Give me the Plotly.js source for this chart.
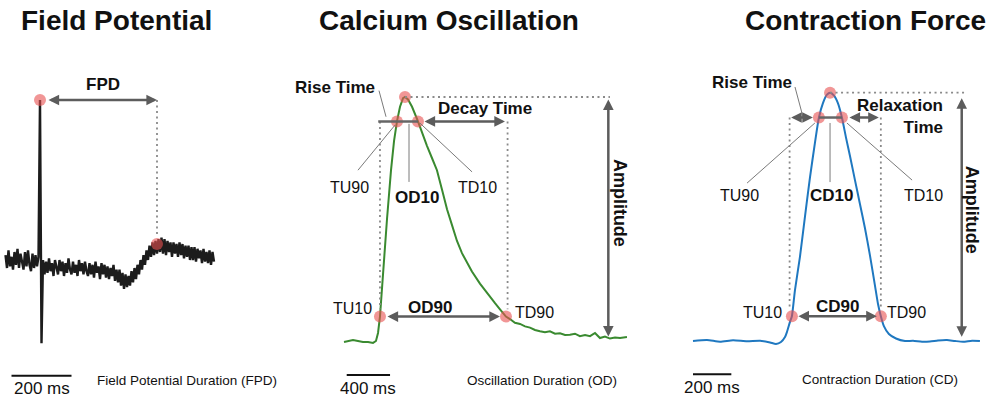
<!DOCTYPE html>
<html><head><meta charset="utf-8">
<script src="https://cdn.plot.ly/plotly-3.0.1.min.js"></script>
<style>html,body{margin:0;padding:0;background:#fff}</style>
</head><body><div id="chart" style="width:989px;height:399px"></div>
<script>
// ---------------- DATA ----------------
// Field potential trace (arbitrary µV units), sampled every 5 ms starting at -115 ms
const fpStart = -115, fpStep = 5;
const fpValues = [
  3,-5,6,-4,2,-6,5,-3,7,-5,4,-2,-6,5,-4,6,-3,-7,4,-5,3,-4,2,
  100,-52,
  0,-9,-1,-8,1,-7,-2,-10,0,-6,
  -9,0,-7,-1,-10,-2,-8,1,-6,-9,
  -1,-8,-3,-10,0,-7,-2,-9,-1,-7,
  -10,-2,-9,-3,-11,-1,-8,-4,-12,-2,
  -9,-3,-11,-4,-12,-5,-10,-3,-13,-6,
  -14,-6,-16,-8,-18,-9,-17,-10,-16,-7,
  -14,-5,-12,-3,-9,0,-6,3,-3,6,
  0,9,2,11,3,12,4,13,5,14,
  4,13,3,12,5,11,2,11,4,10,
  2,11,3,10,1,9,2,9,0,8,
  0,8,-1,7,1,6,-2,7,-1,5,
  -2,6,-3,5,-1
];
const fpMarkT = [0, 390];        // depolarisation peak, repolarisation peak
const fpMarkV = [100, 10];

// Calcium oscillation (normalised fluorescence) vs time (ms)
const caT = [0,37,83,129,175,222,268,295,314,332,360,397,434,462,489,517,545,563,591,628,683,729,766,812,858,905,951,997,1043,1089,1135,1181,1255,1329,1394,1440,1495,1532,1578,1625,1671,1717,1763,1809,1855,1901,1948,1994,2040,2086,2132,2178,2225,2271,2317,2363,2409,2455,2502,2548,2612];
const caV = [-0.004,0,0.004,0,-0.004,-0.004,-0.008,0,0.033,0.10,0.29,0.50,0.70,0.82,0.90,0.96,0.995,1.0,0.99,0.96,0.90,0.84,0.80,0.75,0.70,0.62,0.54,0.475,0.41,0.36,0.32,0.285,0.235,0.19,0.155,0.13,0.10,0.09,0.075,0.07,0.06,0.055,0.045,0.04,0.036,0.04,0.03,0.032,0.025,0.026,0.03,0.02,0.024,0.02,0.033,0.012,0.018,0.01,0.014,0.012,0.016];
// peak, TU90, TD10, TU10, TD90
const caMarkT = [563, 489, 683, 332, 1495];
const caMarkV = [1.0, 0.9, 0.9, 0.1, 0.1];

// Contraction force (normalised) vs time (ms)
const cfT = [0,73,141,209,282,350,402,433,459,480,490,506,516,532,558,584,610,636,657,678,699,715,736,756,777,798,819,845,871,897,923,949,965,980,996,1022,1059,1106,1148,1195,1236,1278,1325,1367,1409,1456,1497];
const cfV = [0,0.004,-0.003,0.003,-0.001,0.001,-0.006,-0.012,-0.004,0.016,0.036,0.077,0.10,0.205,0.339,0.50,0.657,0.797,0.90,0.958,0.992,1.0,0.988,0.958,0.90,0.82,0.745,0.648,0.552,0.455,0.346,0.225,0.15,0.10,0.06,0.028,0.01,0,0.001,-0.003,-0.002,0.002,0.004,0,-0.003,0.001,0];
const cfMarkT = [715, 657, 777, 516, 980];
const cfMarkV = [1.0, 0.9, 0.9, 0.1, 0.1];

const scaleBarsMs = [200, 400, 200];
const titles = ["Field Potential", "Calcium Oscillation", "Contraction Force"];
const captions = ["Field Potential Duration (FPD)", "Oscillation Duration (OD)", "Contraction Duration (CD)"];

// ---------------- LAYOUT HELPERS ----------------
const W = 989, H = 399;
function xAx(a, b, p0, s) { return {domain:[a/W, b/W], range:[(a-p0)/s, (b-p0)/s], visible:false, fixedrange:true}; }
function yAx(top, bot, p0, s) { return {domain:[1-bot/H, 1-top/H], range:[(p0-bot)/s, (p0-top)/s], visible:false, fixedrange:true}; }

const FONT = 'Liberation Sans, Arial, sans-serif';
const ARROW = '#5c5c5c', DOT = '#8a8a8a', LEAD = '#7a7a7a';
const DOTDASH = '2px,3.5px';
const MARK = 'rgba(232,80,80,0.6)';

const ann = [], shp = [];
function txt(xr, yr, x, y, text, size, extra) {
  ann.push(Object.assign({xref:xr, yref:yr, x:x, y:y, text:text, showarrow:false,
    xanchor:'center', yanchor:'middle',
    font:{family:FONT, size:size, color:'#111'}}, extra || {}));
}
function dbl(xr, yr, x0, y0, x1, y1, ss, es) {
  ann.push({xref:xr, yref:yr, axref:xr, ayref:yr, x:x1, y:y1, ax:x0, ay:y0, text:'',
    showarrow:true, arrowside:'end+start', arrowhead:2, startarrowhead:2,
    arrowsize:0.85, startarrowsize:0.85, arrowwidth:2.5, arrowcolor:ARROW,
    standoff:es, startstandoff:ss});
}
function seg(xr, yr, x0, y0, x1, y1, color, width, dash) {
  shp.push({type:'line', xref:xr, yref:yr, x0:x0, y0:y0, x1:x1, y1:y1,
    line:{color:color, width:width, dash:dash || 'solid'}});
}

// ---------------- PANEL 1 ----------------
dbl('x','y', fpMarkT[0], fpMarkV[0], fpMarkT[1], fpMarkV[0], 7, 0);
seg('x','y', fpMarkT[1], fpMarkV[0], fpMarkT[1], fpMarkV[1] + 5, DOT, 1.8, DOTDASH);
txt('x','y', 210, 109.5, '<b>FPD</b>', 17);
seg('x','y', -95, -72.3, -95 + scaleBarsMs[0], -72.3, '#111', 2);
txt('x','y', 7, -80.5, scaleBarsMs[0] + ' ms', 17);
txt('x','y', 490, -75, captions[0], 13.5);

// ---------------- PANEL 2 ----------------
const [caPk, caU90, caD10, caU10, caD90] = caMarkT;
seg('x2','y2', caPk, 1.0, 2455, 1.0, DOT, 1.8, DOTDASH);
seg('x2','y2', caU10, 0.9, caU10, 0.13, DOT, 1.8, DOTDASH);
seg('x2','y2', caD90 + 15, 0.9, caD90 + 15, 0.13, DOT, 1.8, DOTDASH);
seg('x2','y2', 316, 0.9, caD10, 0.9, '#666', 2.5);
dbl('x2','y2', caD10, 0.9, caD90, 0.9, 5, 1);
dbl('x2','y2', caU10, 0.1, caD90, 0.1, 6, 6);
dbl('x2','y2', 2440, 0.996, 2440, 0.018, 0, 0);
seg('x2','y2', 323, 1.026, 388, 0.919, LEAD, 1);
seg('x2','y2', 471, 0.885, 129, 0.70, LEAD, 1);
seg('x2','y2', 600, 0.89, 600, 0.652, LEAD, 1);
seg('x2','y2', 701, 0.893, 1182, 0.693, LEAD, 1);
txt('x2','y2', -83, 1.041, '<b>Rise Time</b>', 17);
txt('x2','y2', 1302, 0.951, '<b>Decay Time</b>', 17);
txt('x2','y2', 55, 0.631, 'TU90', 16);
txt('x2','y2', 674, 0.590, '<b>OD10</b>', 17);
txt('x2','y2', 1228, 0.631, 'TD10', 16);
txt('x2','y2', 74, 0.135, 'TU10', 16);
txt('x2','y2', 1763, 0.115, 'TD90', 16);
txt('x2','y2', 794, 0.139, '<b>OD90</b>', 17);
txt('x2','y2', 2548, 0.566, '<b>Amplitude</b>', 18, {textangle:90});
seg('x2','y2', 25, -0.139, 25 + scaleBarsMs[1], -0.139, '#111', 2);
txt('x2','y2', 222, -0.193, scaleBarsMs[1] + ' ms', 17);
txt('x2','y2', 1828, -0.160, captions[1], 13.5);

// ---------------- PANEL 3 ----------------
const [cfPk, cfU90, cfD10, cfU10, cfD90] = cfMarkT;
seg('x3','y3', cfPk, 1.0, 1419, 1.0, DOT, 1.8, DOTDASH);
seg('x3','y3', cfU10 - 12, 0.9, cfU10 - 12, 0.13, DOT, 1.8, DOTDASH);
seg('x3','y3', cfD90, 0.9, cfD90, 0.13, DOT, 1.8, DOTDASH);
seg('x3','y3', cfU90, 0.9, cfD10, 0.9, '#666', 2.5);
dbl('x3','y3', cfU10 - 12, 0.9, cfU90, 0.9, 0, 6);
dbl('x3','y3', cfD10, 0.9, cfD90, 0.9, 6, 2);
dbl('x3','y3', cfU10, 0.1, cfD90, 0.1, 5, 4);
dbl('x3','y3', 1402, 0.984, 1402, 0.017, 0, 0);
seg('x3','y3', 532, 1.023, 574, 0.902, LEAD, 1);
seg('x3','y3', 636, 0.878, 282, 0.636, LEAD, 1);
seg('x3','y3', cfPk, 0.878, cfPk, 0.64, LEAD, 1);
seg('x3','y3', 803, 0.878, 1143, 0.648, LEAD, 1);
txt('x3','y3', 308, 1.043, '<b>Rise Time</b>', 17);
txt('x3','y3', 1315, 0.906, '<b>Relaxation</b><br><b>Time</b>', 17, {xanchor:'right', align:'right'});
txt('x3','y3', 245, 0.588, 'TU90', 16);
txt('x3','y3', 725, 0.588, '<b>CD10</b>', 17);
txt('x3','y3', 1200, 0.588, 'TD10', 16);
txt('x3','y3', 360, 0.113, 'TU10', 16);
txt('x3','y3', 1116, 0.113, 'TD90', 16);
txt('x3','y3', 756, 0.137, '<b>CD90</b>', 17);
txt('x3','y3', 1456, 0.528, '<b>Amplitude</b>', 18, {textangle:90});
seg('x3','y3', 0, -0.134, scaleBarsMs[2], -0.134, '#111', 2);
txt('x3','y3', 99, -0.189, scaleBarsMs[2] + ' ms', 17);
txt('x3','y3', 976, -0.157, captions[2], 13.5);

// titles
const titleX = [116, 449, 865];
titles.forEach((t, i) => txt('paper','paper', titleX[i]/W, 1 - 20/H, '<b>' + t + '</b>', 28));

// ---------------- TRACES ----------------
const traces = [
  {type:'scatter', mode:'lines', x0:fpStart, dx:fpStep, y:fpValues, xaxis:'x', yaxis:'y',
   line:{color:'#1c1c1c', width:2.4}, hoverinfo:'skip'},
  {type:'scatter', mode:'lines', x:caT, y:caV, xaxis:'x2', yaxis:'y2',
   line:{color:'#3a8a30', width:2}, hoverinfo:'skip'},
  {type:'scatter', mode:'lines', x:cfT, y:cfV, xaxis:'x3', yaxis:'y3',
   line:{color:'#1f78c0', width:2, shape:'spline', smoothing:0.6}, hoverinfo:'skip'},
  {type:'scatter', mode:'markers', x:fpMarkT, y:fpMarkV, xaxis:'x', yaxis:'y',
   marker:{size:12, color:MARK}, cliponaxis:false, hoverinfo:'skip'},
  {type:'scatter', mode:'markers', x:caMarkT, y:caMarkV, xaxis:'x2', yaxis:'y2',
   marker:{size:12, color:MARK}, cliponaxis:false, hoverinfo:'skip'},
  {type:'scatter', mode:'markers', x:cfMarkT, y:cfMarkV, xaxis:'x3', yaxis:'y3',
   marker:{size:12, color:MARK}, cliponaxis:false, hoverinfo:'skip'}
];

const layout = {
  width:W, height:H, margin:{l:0, r:0, t:0, b:0},
  paper_bgcolor:'#fff', plot_bgcolor:'rgba(0,0,0,0)', showlegend:false,
  xaxis: Object.assign(xAx(0, 250, 40, 0.3), {anchor:'y'}),
  yaxis: Object.assign(yAx(40, 399, 260, 1.6), {anchor:'x'}),
  xaxis2: Object.assign(xAx(300, 660, 344, 0.10833), {anchor:'y2'}),
  yaxis2: Object.assign(yAx(40, 399, 341, 244), {anchor:'x2'}),
  xaxis3: Object.assign(xAx(670, 989, 693, 0.19167), {anchor:'y3'}),
  yaxis3: Object.assign(yAx(40, 399, 341, 248.3), {anchor:'x3'}),
  annotations: ann, shapes: shp
};
Plotly.newPlot('chart', traces, layout, {staticPlot:true, displayModeBar:false});
</script></body></html>
